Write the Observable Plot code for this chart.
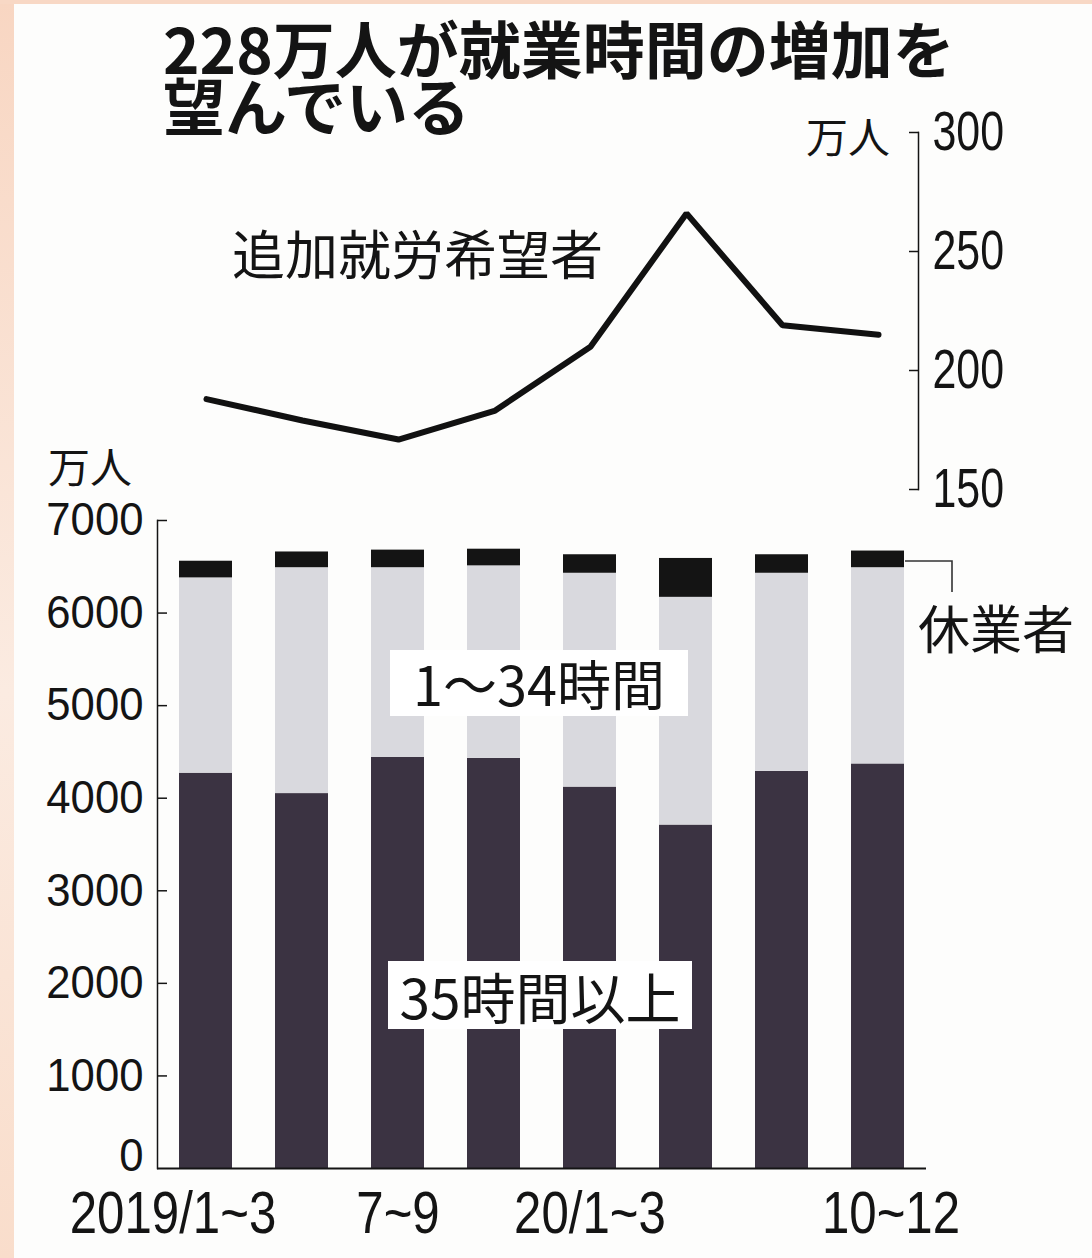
<!DOCTYPE html>
<html>
<head>
<meta charset="utf-8">
<script src="https://cdn.jsdelivr.net/npm/d3@7"></script>
<script src="https://cdn.jsdelivr.net/npm/@observablehq/plot@0.6"></script>
<style>
html, body { margin: 0; padding: 0; background: #fff; }
#wrap { position: relative; width: 1092px; height: 1258px; overflow: hidden; background: #fdfdfc; font-family: "Noto Sans CJK JP", sans-serif; color: #141414; }
#edgeL { position: absolute; left: 0; top: 0; width: 14px; height: 1258px; background: linear-gradient(#f8d6c2, #fbebe1 55%, #f9ddcb); }
#edgeT { position: absolute; left: 0; top: 0; width: 1092px; height: 4px; background: #f8d8c5; }
.abs { position: absolute; white-space: nowrap; line-height: 1; }
.plotbox { position: absolute; left: 0; }
.box { background: #fff; text-align: center; }
</style>
</head>
<body>
<div id="wrap">
  <div id="edgeL"></div>
  <div id="edgeT"></div>
  <div id="topChart" class="plotbox" style="top:0"></div>
  <div id="bottomChart" class="plotbox" style="top:440px"></div>
  <div class="abs" style="left:163px;top:19px;font-size:62px;line-height:57px;font-weight:700;">228万人が就業時間の増加を<br>望んでいる</div>
  <div class="abs" style="left:806px;top:114px;font-size:42px;">万人</div>
  <div class="abs" style="left:48px;top:444px;font-size:42px;">万人</div>
  <div class="abs" style="left:232px;top:226px;font-size:53px;">追加就労希望者</div>
  <div class="abs box" style="left:390px;top:650px;width:298px;height:66px;font-size:54px;line-height:66px;">1～34時間</div>
  <div class="abs box" style="left:388px;top:961px;width:304px;height:68px;font-size:55px;line-height:68px;">35時間以上</div>
  <div class="abs" style="left:918px;top:601px;font-size:52px;">休業者</div>
  <svg class="abs" style="left:0;top:0" width="1092" height="1258"><path d="M905,561 H952 V592" fill="none" stroke="#333" stroke-width="1.6"/></svg>
</div>
<script>
// ---- data ----
const quarters = ["2019/1~3", "2019/4~6", "2019/7~9", "2019/10~12", "2020/1~3", "2020/4~6", "2020/7~9", "2020/10~12"];
const tickLabels = {"2019/1~3": "2019/1~3", "2019/7~9": "7~9", "2020/1~3": "20/1~3", "2020/10~12": "10~12"};
const fullTime = [4270, 4050, 4440, 4430, 4120, 3710, 4290, 4370];   // 35時間以上
const partTime = [2110, 2440, 2050, 2080, 2310, 2460, 2140, 2120];   // 1～34時間
const absent   = [180, 170, 190, 180, 200, 420, 200, 180];           // 休業者
const additional = [188, 179, 171, 183, 210, 266, 219, 215];         // 追加就労希望者 (万人)
const seriesNames = ["35時間以上", "1～34時間", "休業者"];
const seriesColors = ["#3b3342", "#d9d9de", "#141414"];
const leftTicks = [1000, 2000, 3000, 4000, 5000, 6000, 7000];
const zeroTick = [0];
const rightTicks = [150, 200, 250, 300];

const numFont = '"Liberation Sans", Arial, sans-serif';

// squeeze tick-label text horizontally (newspaper condensed numerals)
function condense(svg, selector, sx) {
  svg.querySelectorAll(selector).forEach(t => {
    const tr = t.getAttribute("transform");
    if (tr) t.setAttribute("transform", `${tr} scale(${sx},1)`);
  });
}

// ---- line chart (top) ----
const lineData = quarters.map((q, i) => ({q, v: additional[i]}));
const topPlot = Plot.plot({
  width: 1092, height: 520,
  marginLeft: 157, marginRight: 174, marginTop: 132, marginBottom: 31,
  style: {background: "transparent", color: "#141414", overflow: "visible"},
  x: {type: "point", domain: quarters, range: [157, 926], padding: 0.5, axis: null},
  y: {domain: [150, 300], axis: null},
  marks: [
    Plot.frame({anchor: "right", strokeWidth: 1.5}),
    Plot.axisY({anchor: "right", ticks: rightTicks, tickSize: 10, dx: -10, text: null, strokeWidth: 1.5, label: null}),
    Plot.axisY({anchor: "right", ticks: rightTicks, tickSize: 0, tickPadding: 14, fontSize: 55, fontFamily: numFont, label: null}),
    Plot.line(lineData, {x: "q", y: "v", strokeWidth: 6, stroke: "#111", strokeLinejoin: "miter"})
  ]
});
condense(topPlot, "text", 0.78);
document.getElementById("topChart").appendChild(topPlot);

// ---- stacked bars (bottom) ----
const rows = quarters.flatMap((q, i) => [
  {q, s: seriesNames[0], v: fullTime[i]},
  {q, s: seriesNames[1], v: partTime[i]},
  {q, s: seriesNames[2], v: absent[i]}
]);
const labelOpts = {tickSize: 0, tickPadding: 22, fontSize: 60, fontFamily: numFont, label: null, tickFormat: d => tickLabels[d]};
const yTextOpts = {tickSize: 0, tickPadding: 14, fontSize: 46, fontFamily: numFont, label: null, tickFormat: d => String(d)};
const bottomPlot = Plot.plot({
  width: 1092, height: 818,
  marginLeft: 157, marginRight: 166, marginTop: 80, marginBottom: 90,
  style: {background: "transparent", color: "#141414", overflow: "visible"},
  x: {type: "band", domain: quarters, paddingInner: 0.45, paddingOuter: 0.225, axis: null},
  y: {domain: [0, 7000], axis: null},
  color: {domain: seriesNames, range: seriesColors},
  marks: [
    Plot.barY(rows, {x: "q", y: "v", fill: "s"}),
    Plot.frame({anchor: "left", strokeWidth: 1.5}),
    Plot.ruleY([0], {strokeWidth: 2}),
    Plot.axisY({ticks: leftTicks, tickSize: 10, dx: 10, text: null, strokeWidth: 1.5, label: null}),
    Plot.axisY({ticks: leftTicks, ...yTextOpts}),
    Plot.axisY({ticks: zeroTick, dy: -12, ...yTextOpts}),
    Plot.axisX({ticks: [quarters[0]], dx: -33, ...labelOpts}),
    Plot.axisX({ticks: [quarters[2], quarters[4]], ...labelOpts}),
    Plot.axisX({ticks: [quarters[7]], dx: 13, ...labelOpts})
  ]
});
condense(bottomPlot, 'g[aria-label="x-axis tick label"] text', 0.82);
condense(bottomPlot, 'g[aria-label="y-axis tick label"] text', 0.95);
document.getElementById("bottomChart").appendChild(bottomPlot);
</script>
</body>
</html>
